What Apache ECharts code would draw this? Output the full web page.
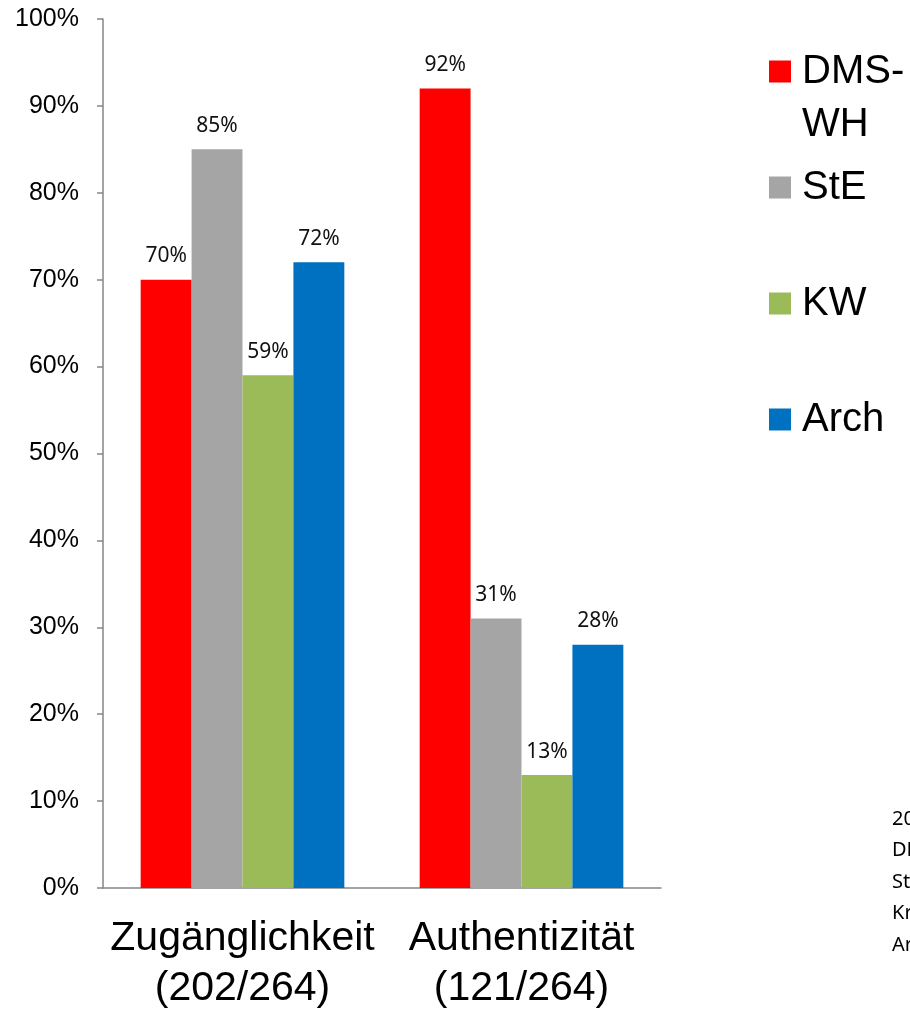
<!DOCTYPE html>
<html lang="de">
<head>
    <meta charset="UTF-8">
    <title>Zugaenglichkeit / Authentizitaet</title>
    <script src="https://cdn.jsdelivr.net/npm/echarts@6/dist/echarts.min.js"></script>
    <style>
        html,body{margin:0;padding:0;background:#fff}
        #chart{width:910px;height:1011px}
    </style>
</head>
<body>
    <div id="chart"></div>
    <script>
        var categories = ['Zugänglichkeit\n(202/264)', 'Authentizität\n(121/264)'];
        var seriesNames = ['DMS-WH', 'StE', 'KW', 'Arch'];
        var dmsWh = [70, 92];
        var ste = [85, 31];
        var kw = [59, 13];
        var arch = [72, 28];
        var colors = ['#FF0000', '#A5A5A5', '#9BBB59', '#0070C0'];
        var noteLines = ['2014', 'DMS-WH', 'StE', 'Kreise', 'Archive'];

        var mychart = echarts.init(document.getElementById('chart'));

        function bar(name, data, color) {
            return {
                name: name,
                type: 'bar',
                data: data,
                barGap: '0%',
                barCategoryGap: '27%',
                itemStyle: {color: color},
                label: {
                    show: true,
                    position: 'top',
                    distance: 13,
                    formatter: '{c}%',
                    fontFamily: 'Noto Sans',
                    fontSize: 21,
                    color: '#111'
                }
            };
        }

        // eine Legende pro Reihe, damit die Abstände wie im Original sind
        var legendTops = [-8, 161, 277, 393];
        var legends = seriesNames.map(function (n, i) {
            return {
                data: [n],
                orient: 'vertical',
                left: 769,
                top: legendTops[i],
                padding: 0,
                itemWidth: 22,
                itemHeight: 22,
                icon: 'rect',
                formatter: function (name) {
                    return name === 'DMS-WH' ? ' \nDMS-\nWH' : name;
                },
                textStyle: {
                    fontFamily: 'Liberation Sans',
                    fontSize: 40,
                    lineHeight: 53,
                    padding: [0, 0, 0, 6],
                    color: '#000'
                }
            };
        });

        var option = {
            animation: false,
            backgroundColor: '#fff',
            grid: {left: 103, right: 249, top: 19, bottom: 123, containLabel: false, outerBoundsMode: 'none'},
            legend: legends,
            xAxis: {
                type: 'category',
                data: categories,
                axisLine: {lineStyle: {color: '#868686', width: 1.5}},
                axisTick: {length: 12, lineStyle: {color: '#868686', width: 1.5}},
                axisLabel: {
                    interval: 0,
                    hideOverlap: false,
                    margin: 26,
                    fontFamily: 'Liberation Sans',
                    fontSize: 41,
                    lineHeight: 50,
                    color: '#000'
                }
            },
            yAxis: {
                type: 'value',
                min: 0,
                max: 100,
                interval: 10,
                splitLine: {show: false},
                axisLine: {show: true, lineStyle: {color: '#868686', width: 1.5}},
                axisTick: {show: true, length: 6, lineStyle: {color: '#868686', width: 1.5}},
                axisLabel: {
                    formatter: '{value}%',
                    margin: 24,
                    fontFamily: 'Liberation Sans',
                    fontSize: 25,
                    color: '#000'
                }
            },
            graphic: noteLines.map(function (t, i) {
                return {
                    type: 'text',
                    left: 892,
                    top: 809 + i * 31.5,
                    style: {text: t, fontFamily: 'Noto Sans', fontSize: 20, fill: '#000'}
                };
            }),
            series: [
                bar(seriesNames[0], dmsWh, colors[0]),
                bar(seriesNames[1], ste, colors[1]),
                bar(seriesNames[2], kw, colors[2]),
                bar(seriesNames[3], arch, colors[3])
            ]
        };
        mychart.setOption(option);
    </script>
</body>
</html>
